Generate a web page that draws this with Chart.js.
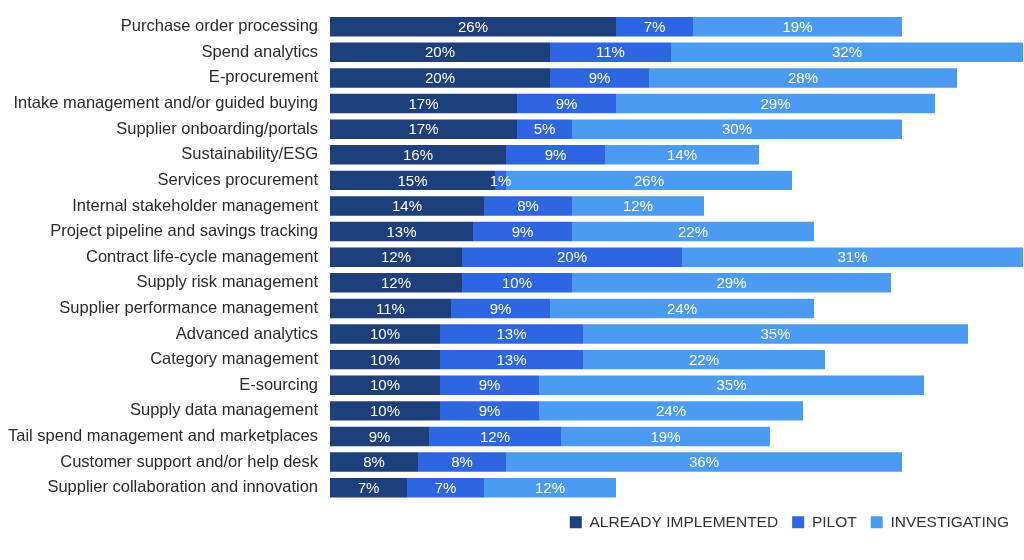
<!DOCTYPE html>
<html><head><meta charset="utf-8">
<script src="https://cdn.jsdelivr.net/npm/chart.js@4"></script>
<style>html,body{margin:0;padding:0;background:#fff}#w{width:1024px;height:560px}</style>
</head><body><div id="w"><canvas id="c"></canvas></div>
<script>
const categories=["Purchase order processing","Spend analytics","E-procurement","Intake management and/or guided buying","Supplier onboarding/portals","Sustainability/ESG","Services procurement","Internal stakeholder management","Project pipeline and savings tracking","Contract life-cycle management","Supply risk management","Supplier performance management","Advanced analytics","Category management","E-sourcing","Supply data management","Tail spend management and marketplaces","Customer support and/or help desk","Supplier collaboration and innovation"];
const implemented=[26,20,20,17,17,16,15,14,13,12,12,11,10,10,10,10,9,8,7];
const pilot=[7,11,9,9,5,9,1,8,9,20,10,9,13,13,9,9,12,8,7];
const investigating=[19,32,28,29,30,14,26,12,22,31,29,24,35,22,35,24,19,36,12];
const labelsPlugin={id:'lbl',afterDatasetsDraw(ch){const ctx=ch.ctx;ctx.save();ctx.fillStyle='#fff';ctx.font='15px "Liberation Sans", Arial, sans-serif';ctx.textAlign='center';ctx.textBaseline='middle';
ch.data.datasets.forEach((ds,i)=>{ch.getDatasetMeta(i).data.forEach((b,j)=>{const x=(b.x+b.base)/2;ctx.fillText(ds.data[j]+'%',x,b.y+1);});});ctx.restore();}};
new Chart(document.getElementById('c'),{type:'bar',
data:{labels:categories,datasets:[
{label:'ALREADY IMPLEMENTED',data:implemented,backgroundColor:'#1d3f7c'},
{label:'PILOT',data:pilot,backgroundColor:'#2d66e0'},
{label:'INVESTIGATING',data:investigating,backgroundColor:'#4b9bf2'}]},
options:{indexAxis:'y',responsive:true,maintainAspectRatio:false,animation:false,
layout:{padding:{top:-20,right:1,bottom:20,left:0}},
datasets:{bar:{barPercentage:0.76,categoryPercentage:1}},
plugins:{tooltip:{enabled:false},legend:{position:'bottom',align:'end',labels:{boxWidth:12,boxHeight:12,color:'#333',padding:14,font:{size:15.5,family:'"Liberation Sans", Arial, sans-serif'}}}},
scales:{x:{stacked:true,min:0,max:63,display:false},
y:{stacked:true,grid:{display:false},border:{display:false},afterFit(s){s.width=330;},ticks:{color:'#2a2a2a',padding:4,font:{size:16.5,family:'"Liberation Sans", Arial, sans-serif'}}}}},
plugins:[labelsPlugin]});
</script></body></html>
